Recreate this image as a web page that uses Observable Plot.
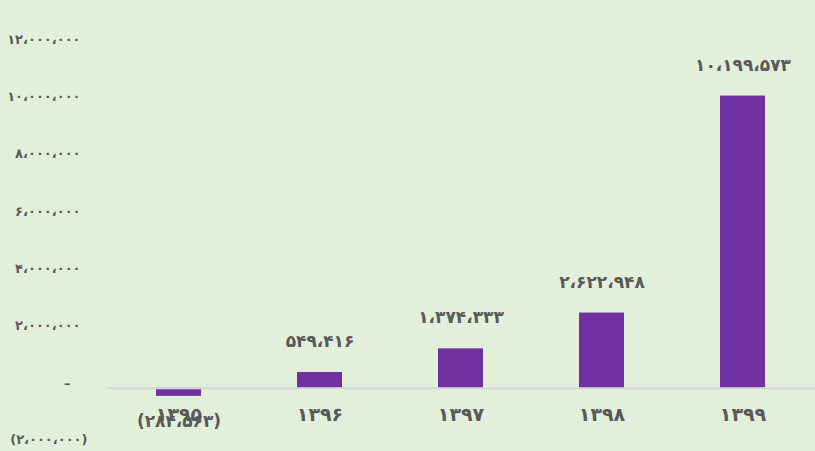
<!DOCTYPE html>
<html><head><meta charset="utf-8">
<script src="https://cdn.jsdelivr.net/npm/d3@7"></script>
<script src="https://cdn.jsdelivr.net/npm/@observablehq/plot@0.6"></script>
<style>
html,body{margin:0;padding:0;background:#e2efda;}
#chart svg{background:#e2efda;display:block;}
</style></head>
<body><div id="chart"></div>
<script>
const years = ["۱۳۹۵","۱۳۹۶","۱۳۹۷","۱۳۹۸","۱۳۹۹"];
const values = [-284563, 549416, 1374333, 2622948, 10199573];
const yTicks = [-2000000, 0, 2000000, 4000000, 6000000, 8000000, 10000000, 12000000];

const fa = s => s.replace(/[0-9]/g, d => "۰۱۲۳۴۵۶۷۸۹"[+d]);
const fmt = v => {
  if (v === 0) return "–";
  const s = fa(d3.format(",")(Math.abs(v))).replace(/,/g, "،");
  return v < 0 ? "(" + s + ")" : s;
};
const data = years.map((y, i) => ({year: y, value: values[i]}));
const posTicks = yTicks.filter(t => t > 0);
const negTicks = yTicks.filter(t => t < 0);
const zeroTicks = yTicks.filter(t => t === 0);
const font = "DejaVu Sans";
const grey = "#595959";

const chart = Plot.plot({
  width: 815, height: 451,
  marginLeft: 107, marginRight: 0, marginTop: 44, marginBottom: 6,
  style: {background: "#e2efda", fontFamily: font},
  x: {domain: years, type: "band", paddingInner: 0.68, paddingOuter: 0.333, axis: null},
  y: {domain: [-2000000, 12000000], axis: null},
  marks: [
    Plot.barY(data, {x: "year", y: "value", fill: "#7030a0"}),
    Plot.ruleY([0], {stroke: "#d6d6d6", strokeWidth: 2}),
    Plot.text(posTicks, {y: d => d, text: fmt, frameAnchor: "left", dx: -27, dy: -5, textAnchor: "end", fill: grey, fontSize: 13, fontWeight: "bold"}),
    Plot.text(negTicks, {y: d => d, text: fmt, frameAnchor: "left", dx: -20, dy: -6, textAnchor: "end", fill: grey, fontSize: 13, fontWeight: "bold"}),
    Plot.text(zeroTicks, {y: d => d, text: fmt, frameAnchor: "left", dx: -37, dy: -4, textAnchor: "end", fill: grey, fontSize: 13, fontWeight: "bold"}),
    Plot.text(data, {x: "year", y: () => 0, text: "year", dy: 27, fill: grey, fontSize: 19, fontWeight: "bold"}),
    Plot.text(data.filter(d => d.value >= 0), {x: "year", y: "value", text: d => fmt(d.value), dy: -31, fill: grey, fontSize: 17, fontWeight: "bold"}),
    Plot.text(data.filter(d => d.value < 0), {x: "year", y: "value", text: d => fmt(d.value), dy: 25, fill: grey, fontSize: 17, fontWeight: "bold"})
  ]
});
document.getElementById("chart").appendChild(chart);
</script></body></html>
